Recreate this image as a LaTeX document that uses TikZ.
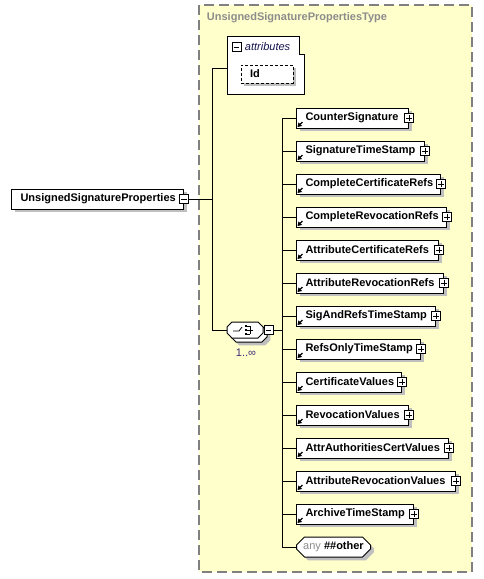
\documentclass[tikz,border=0pt]{standalone}
\usepackage{fontspec}
\setmainfont{Liberation Sans}
\usetikzlibrary{shapes.misc,shadows,arrows.meta,positioning}

\definecolor{xsdyellow}{RGB}{255,255,204}
\definecolor{xsdgray}{RGB}{128,128,128}
\definecolor{titlegray}{RGB}{140,140,140}
\definecolor{multcol}{RGB}{64,40,120}
\definecolor{attrcol}{RGB}{20,20,80}

\tikzset{
  xsd/.style={font=\fontsize{8.25}{10}\selectfont},
  xsdbold/.style={font=\fontsize{8.25}{10}\selectfont\bfseries},
  shadowed/.style={drop shadow={shadow xshift=2.5pt,shadow yshift=-2.5pt,fill=black!25,opacity=1}},
  elem/.style={xsdbold, draw, fill=white, shadowed, anchor=west, minimum height=15pt,
    inner xsep=6.75pt, inner ysep=0pt, align=left},
  toggle/.style={draw, fill=white, minimum size=6.75pt, inner sep=0pt, line width=0.6pt},
  sign/.style={line width=0.6pt},
  reficon/.style={line width=1pt, -{Triangle[length=3pt,width=3.6pt]}},
  anyshape/.style={chamfered rectangle, chamfered rectangle xsep=2.5pt, draw, fill=white, shadowed,
    xsd, anchor=west, minimum width=55.5pt, minimum height=15pt, inner sep=0pt},
}

\begin{document}
\begin{tikzpicture}[x=0.75pt, y=-0.75pt, line width=0.75pt]
\useasboundingbox (0,0) rectangle (484,579);
% complex type
\draw[xsdgray, line width=1.1pt, dash pattern=on 7.5pt off 3.75pt, fill=xsdyellow] (199,5) rectangle (472,572);
\node[xsdbold, text=titlegray, anchor=west] (title) at (202,18) {UnsignedSignaturePropertiesType};
% attributes
\draw[fill=white] (227,36) -- (299,36) -- (299,54) -- (304,54) -- (304,94) -- (227,94) -- cycle;
\node[toggle] (amin) at (236.5,47) {};
\draw[sign] ([xshift=1.5pt]amin.west) -- ([xshift=-1.5pt]amin.east);
\node[xsd, font=\fontsize{8.25}{10}\selectfont\itshape, text=attrcol, anchor=west] (attrs) at (240,47) {attributes};
\node[xsdbold, draw, dash pattern=on 2.25pt off 1.5pt, fill=white, shadowed, minimum height=13.5pt,
  inner xsep=6.75pt, inner ysep=0pt, text width=25.5pt, align=left] (id) at (267,74) {Id};
% root element
\node[elem, text width=115.5pt] (root) at (11,199) {UnsignedSignatureProperties};
\node[toggle] (rootmin) at (root.east) {};
\draw[sign] ([xshift=1.5pt]rootmin.west) -- ([xshift=-1.5pt]rootmin.east);
% sequence 1..oo
\draw[fill=white, shadowed] (236,326) -- (262,326) -- (267,331) -- (267,337) -- (262,342) -- (236,342)
  -- (231,337) -- (231,331) -- cycle;
\draw[fill=white] (232,322) -- (258,322) -- (263,327) -- (263,333) -- (258,338) -- (232,338)
  -- (227,333) -- (227,327) -- cycle;
\node[minimum width=27pt, minimum height=12pt, inner sep=0pt] (seq) at (245,330) {};
\node[toggle, right=0pt of seq] (seqmin) {};
\draw[sign] ([xshift=1.5pt]seqmin.west) -- ([xshift=-1.5pt]seqmin.east);
\draw[sign] (233,331) -- (239,331) -- (242,327);
\foreach \dy in {326,330,334}{
  \fill (244.5,\dy-0.8) rectangle (246.5,\dy+0.8);
  \draw[sign] (246.5,\dy) -- (250,\dy);
}
\draw[sign] (250,326) -- (250,334) (250,330) -- (253,330);
\node[xsd, text=multcol] (mult) at (246,353) {1..∞};
% connectors
\coordinate (attrL) at (227,68);
\coordinate (ja) at (212,68);
\coordinate (js) at (212,330);
\coordinate (jr) at (282,330);
\draw (rootmin.east) -- (rootmin.east -| ja);
\draw (attrL) -- (ja) -- (js) -- (seq.west);
\draw (seqmin.east) -- (seqmin.east -| jr);
% child elements
\foreach \i/\name/\r in {0/CounterSignature/408, 1/SignatureTimeStamp/424, 2/CompleteCertificateRefs/440,
    3/CompleteRevocationRefs/446, 4/AttributeCertificateRefs/438, 5/AttributeRevocationRefs/443,
    6/SigAndRefsTimeStamp/435, 7/RefsOnlyTimeStamp/420, 8/CertificateValues/401, 9/RevocationValues/408,
    10/AttrAuthoritiesCertValues/448, 11/AttributeRevocationValues/455, 12/ArchiveTimeStamp/413}{
  \pgfmathsetmacro\tw{(\r-296)*0.75-13.5}
  \node[elem, text width=\tw pt] (e\i) at (296,{118+33*\i}) {\name};
  \node[toggle] (p\i) at (e\i.east) {};
  \draw[sign] ([xshift=1.5pt]p\i.west) -- ([xshift=-1.5pt]p\i.east)
    ([yshift=-1.5pt]p\i.north) -- ([yshift=1.5pt]p\i.south);
  \draw[reficon] ([shift={(6.5,-6.5)}]e\i.south west) -- ([shift={(1.5,-1.5)}]e\i.south west);
  \draw (e\i.west -| jr) -- (e\i.west);
}
% any
\node[anyshape] (any) at (296,547) {\textcolor{titlegray}{any} \textbf{\#\#other}};
\draw (any.west -| jr) -- (any.west);
\draw (e0.west -| jr) -- (any.west -| jr);
\end{tikzpicture}
\end{document}
